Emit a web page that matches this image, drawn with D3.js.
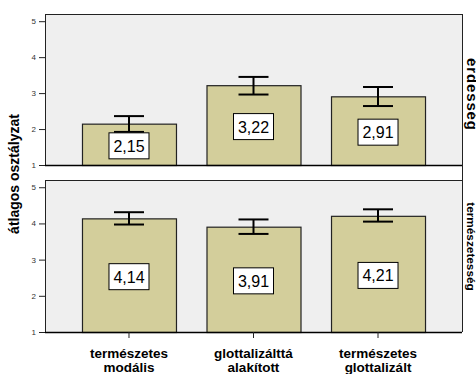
<!DOCTYPE html>
<html><head><meta charset="utf-8">
<script src="https://cdn.jsdelivr.net/npm/d3@7"></script>
<style>body{margin:0;background:#fff}svg{display:block}</style>
</head><body>
<script>
const categories = [["természetes","modális"],["glottalizálttá","alakított"],["természetes","glottalizált"]];
const panels = ["érdesség","természetesség"];
const means = [[2.15,3.22,2.91],[4.14,3.91,4.21]];
const lower = [[1.92,2.96,2.64],[3.97,3.71,4.05]];
const upper = [[2.36,3.45,3.17],[4.31,4.11,4.39]];
const yTicks = [1,2,3,4,5];
const meanLabels = [["2,15","3,22","2,91"],["4,14","3,91","4,21"]];

const W=476,H=374;
const svg=d3.select("body").append("svg").attr("width",W).attr("height",H);
const left=45,right=462;
const x=d3.scaleBand().domain(d3.range(3)).range([left,right]).paddingInner(0.245).paddingOuter(0.297);
const panelRanges=[[165,14],[332,180]];
const font="Arial, 'Liberation Sans', sans-serif";

panels.forEach((p,pi)=>{
  const [yb,yt]=panelRanges[pi];
  const y=d3.scaleLinear().domain([1,5.2]).range([yb,yt]);
  const g=svg.append("g");
  g.append("rect").attr("x",left).attr("y",yt).attr("width",right-left).attr("height",yb-yt).attr("fill","#efefef");
  g.append("line").attr("x1",left).attr("x2",right).attr("y1",yt+0.5).attr("y2",yt+0.5).attr("stroke","#222");
  g.append("line").attr("x1",left+0.5).attr("x2",left+0.5).attr("y1",yt).attr("y2",yb).attr("stroke","#222");
  const ax=g.append("g").attr("transform",`translate(${left},0)`)
    .call(d3.axisLeft(y).tickValues(yTicks).tickSize(6).tickPadding(3).tickFormat(d3.format("d")));
  ax.select(".domain").remove();
  ax.selectAll("text").attr("font-family",font).attr("font-size",8).attr("fill","#333");
  ax.selectAll("line").attr("stroke","#222");
  g.selectAll("rect.bar").data(means[pi]).join("rect").attr("class","bar")
    .attr("x",(d,i)=>x(i)+0.5).attr("width",x.bandwidth())
    .attr("y",d=>y(d)+0.5).attr("height",d=>yb-y(d))
    .attr("fill","#d3ce9b").attr("stroke","#222").attr("stroke-width",1.2);
  const cw=15;
  means[pi].forEach((m,i)=>{
    const cx=x(i)+x.bandwidth()/2;
    const eg=g.append("g").attr("stroke","#000").attr("stroke-width",2);
    eg.append("line").attr("x1",cx).attr("x2",cx).attr("y1",y(upper[pi][i])).attr("y2",y(lower[pi][i]));
    eg.append("line").attr("x1",cx-cw).attr("x2",cx+cw).attr("y1",y(upper[pi][i])).attr("y2",y(upper[pi][i]));
    eg.append("line").attr("x1",cx-cw).attr("x2",cx+cw).attr("y1",y(lower[pi][i])).attr("y2",y(lower[pi][i]));
    const by=(y(m)+yb)/2+1.5;
    g.append("rect").attr("x",cx-20).attr("y",by-13).attr("width",40).attr("height",26)
      .attr("fill","#fff").attr("stroke","#000").attr("stroke-width",1);
    g.append("text").attr("x",cx).attr("y",by+6).attr("text-anchor","middle")
      .attr("font-family",font).attr("font-size",16).attr("fill","#000").text(meanLabels[pi][i]);
  });
  g.append("line").attr("x1",left).attr("x2",right).attr("y1",yb+0.5).attr("y2",yb+0.5).attr("stroke","#000").attr("stroke-width",1.3);
  const cy=pi===0?94:246.5;
  const fs=pi===0?15:11.8;
  const t=svg.append("text").attr("transform",`translate(467,${cy}) rotate(90)`)
    .attr("text-anchor","middle").attr("font-family",font).attr("font-weight","bold")
    .attr("font-size",fs).text(p);
  if(pi===0) t.attr("textLength",72).attr("lengthAdjust","spacing");
});
svg.append("line").attr("x1",right+0.5).attr("x2",right+0.5).attr("y1",14).attr("y2",332).attr("stroke","#222");

const xa=svg.append("g").attr("transform","translate(0,332)")
  .call(d3.axisBottom(x).tickSize(6).tickFormat(""));
xa.select(".domain").remove();
xa.selectAll("line").attr("stroke","#222");
categories.forEach((c,i)=>{
  const t=svg.append("text").attr("x",x(i)+x.bandwidth()/2).attr("y",357.5).attr("text-anchor","middle")
    .attr("font-family",font).attr("font-weight","bold").attr("font-size",13.5);
  c.forEach((s,k)=>t.append("tspan").attr("x",x(i)+x.bandwidth()/2).attr("dy",k?14.5:0).text(s));
});
svg.append("text").attr("transform","translate(19,174) rotate(-90)").attr("text-anchor","middle")
  .attr("font-family",font).attr("font-weight","bold").attr("font-size",14).text("átlagos osztályzat");
</script>
</body></html>
